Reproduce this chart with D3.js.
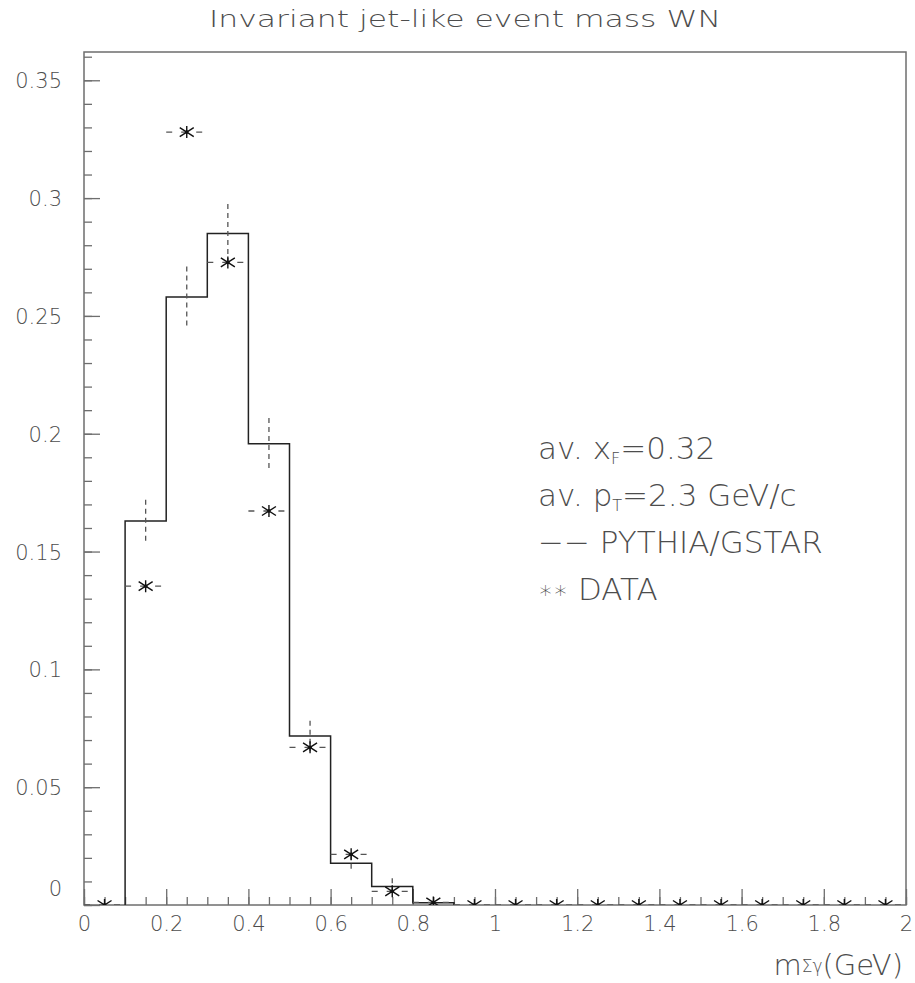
<!DOCTYPE html>
<html>
<head>
<meta charset="utf-8">
<script src="https://cdn.jsdelivr.net/npm/d3@7/dist/d3.min.js"></script>
<style>
  html, body { margin: 0; padding: 0; background: #fff; }
  svg { display: block; }
  text { font-family: "DejaVu Sans", sans-serif; font-weight: 200; fill: #4d4d4d; }
</style>
</head>
<body>
<svg id="chart" width="915" height="983"></svg>
<script>
// ---------- data ----------
const chartTitle = "Invariant jet-like event mass WN";
const binEdges = [0.1, 0.2, 0.3, 0.4, 0.5, 0.6, 0.7, 0.8, 0.9];
const mcValues = [0.163, 0.258, 0.285, 0.1957, 0.0717, 0.0177, 0.0079, 0.001];
const mcErrors = [0.009, 0.013, 0.0125, 0.011, 0.0065, 0.0036, 0.0035, 0.0005];
const dataCenters = [0.05, 0.15, 0.25, 0.35, 0.45, 0.55, 0.65, 0.75, 0.85, 0.95,
                     1.05, 1.15, 1.25, 1.35, 1.45, 1.55, 1.65, 1.75, 1.85, 1.95];
const dataValues = [0, 0.1353, 0.328, 0.2727, 0.1672, 0.0669, 0.0215, 0.0058, 0.0011, 0,
                    0, 0, 0, 0, 0, 0, 0, 0, 0, 0];
const dataHalfWidth = 0.05;
const xTickLabels = ["0", "0.2", "0.4", "0.6", "0.8", "1", "1.2", "1.4", "1.6", "1.8", "2"];
const yTickLabels = ["0", "0.05", "0.1", "0.15", "0.2", "0.25", "0.3", "0.35"];
const legendLines = [
  [{t: "av. x"}, {t: "F", sub: true}, {t: "=0.32"}],
  [{t: "av. p"}, {t: "T", sub: true}, {t: "=2.3 GeV/c"}],
  [{t: "−− PYTHIA/GSTAR"}],
  [{t: "∗∗", small: true}, {t: " DATA"}]
];

// ---------- layout ----------
const svg = d3.select("#chart");
const L = 84, R = 906, T = 52, B = 905;
const x = d3.scaleLinear().domain([0, 2]).range([L, R]);
const y = d3.scaleLinear().domain([0, 0.362]).range([B, T]);
const frameColor = "#6e6e6e";
const fontFam = "'DejaVu Sans', sans-serif";

svg.append("defs").append("clipPath").attr("id", "plotclip")
  .append("rect").attr("x", L).attr("y", T).attr("width", R - L).attr("height", B - T);

// title
svg.append("text").attr("x", 209).attr("y", 27)
  .attr("font-size", 23).attr("textLength", 512).attr("lengthAdjust", "spacingAndGlyphs")
  .text(chartTitle);

// frame
svg.append("rect").attr("x", L).attr("y", T).attr("width", R - L).attr("height", B - T)
  .attr("fill", "none").attr("stroke", frameColor).attr("stroke-width", 1.5);

// y ticks (inward)
const yMajor = yTickLabels.map(Number);
const yMinor = d3.range(0, 0.3601, 0.01).map(v => +v.toFixed(3));
function styleAxis(g) {
  g.select(".domain").remove();
  g.selectAll(".tick line").attr("stroke", frameColor).attr("stroke-width", 1.3);
}
svg.append("g").attr("transform", `translate(${L},0)`)
  .call(d3.axisRight(y).tickValues(yMinor).tickSize(8).tickFormat(""))
  .call(styleAxis);
svg.append("g").attr("transform", `translate(${L},0)`)
  .call(d3.axisRight(y).tickValues(yMajor).tickSize(16).tickFormat(""))
  .call(styleAxis);
// y labels
const yLab = svg.append("g").attr("transform", `translate(${L},0)`)
  .call(d3.axisLeft(y).tickValues(yMajor).tickSize(0).tickPadding(22)
        .tickFormat((d, i) => yTickLabels[i]));
yLab.select(".domain").remove();
yLab.selectAll("text").attr("font-size", 21).attr("fill", "#4d4d4d")
  .attr("font-family", fontFam).attr("font-weight", 200)
  .attr("dy", (d) => d === 0 ? "-0.45em" : "0.36em");

// x ticks (inward)
const xMajor = xTickLabels.map(Number);
const xMinor = d3.range(0, 2.001, 0.05).map(v => +v.toFixed(3));
svg.append("g").attr("transform", `translate(0,${B})`)
  .call(d3.axisTop(x).tickValues(xMinor).tickSize(8).tickFormat(""))
  .call(styleAxis);
svg.append("g").attr("transform", `translate(0,${B})`)
  .call(d3.axisTop(x).tickValues(xMajor).tickSize(16).tickFormat(""))
  .call(styleAxis);
const xLab = svg.append("g").attr("transform", `translate(0,${B})`)
  .call(d3.axisBottom(x).tickValues(xMajor).tickSize(0).tickPadding(11)
        .tickFormat((d, i) => xTickLabels[i]));
xLab.select(".domain").remove();
xLab.selectAll("text").attr("font-size", 21).attr("fill", "#4d4d4d")
  .attr("font-family", fontFam).attr("font-weight", 200);

// x axis title
const xt = svg.append("text").attr("x", 903).attr("y", 975).attr("text-anchor", "end")
  .attr("font-size", 29);
xt.append("tspan").text("m");
xt.append("tspan").attr("font-size", 17).attr("dy", -3).text("Σγ");
xt.append("tspan").attr("dy", 3).text("(GeV)");

// plot content
const plot = svg.append("g").attr("clip-path", "url(#plotclip)");

// MC histogram
const histPts = [[binEdges[0], 0]];
mcValues.forEach((v, i) => { histPts.push([binEdges[i], v]); histPts.push([binEdges[i + 1], v]); });
histPts.push([binEdges[binEdges.length - 1], 0]);
plot.append("path")
  .attr("d", d3.line().x(d => x(d[0])).y(d => y(d[1]))(histPts))
  .attr("fill", "none").attr("stroke", "#222").attr("stroke-width", 1.5);

// MC error bars (dashed vertical)
plot.selectAll("line.mcerr").data(mcValues).join("line")
  .attr("class", "mcerr")
  .attr("x1", (d, i) => x((binEdges[i] + binEdges[i + 1]) / 2))
  .attr("x2", (d, i) => x((binEdges[i] + binEdges[i + 1]) / 2))
  .attr("y1", (d, i) => y(d + mcErrors[i]))
  .attr("y2", (d, i) => y(d - mcErrors[i]))
  .attr("stroke", "#555").attr("stroke-width", 1.3).attr("stroke-dasharray", "5,4");

// data horizontal error bars
plot.selectAll("line.dataerr").data(dataValues).join("line")
  .attr("class", "dataerr")
  .attr("x1", (d, i) => x(dataCenters[i] - dataHalfWidth))
  .attr("x2", (d, i) => x(dataCenters[i] + dataHalfWidth))
  .attr("y1", d => y(d)).attr("y2", d => y(d))
  .attr("stroke", "#555").attr("stroke-width", 1.3).attr("stroke-dasharray", "6,9");

// data asterisks
const starPath = "M0,-6V6M-7,-4.5L7,4.5M-7,4.5L7,-4.5";
const stars = plot.selectAll("g.star").data(dataValues).join("g")
  .attr("class", "star")
  .attr("transform", (d, i) => `translate(${x(dataCenters[i])},${y(d)})`);
stars.append("path").attr("d", starPath).attr("stroke", "#111").attr("stroke-width", 1.4).attr("fill", "none");
stars.append("circle").attr("r", 1.8).attr("fill", "#111");

// legend
const leg = svg.append("g");
legendLines.forEach((parts, i) => {
  const t = leg.append("text").attr("x", 538).attr("y", 459 + i * 47).attr("font-size", 31);
  let prevSub = false;
  parts.forEach(p => {
    const s = t.append("tspan").text(p.t);
    if (p.sub) { s.attr("font-size", 16).attr("dy", 5); prevSub = true; }
    else {
      if (prevSub) { s.attr("dy", -5); prevSub = false; }
      if (p.small) s.attr("font-size", 24).attr("dy", -2);
      else if (parts[0].small) s.attr("dy", 2);
    }
  });
});
</script>
</body>
</html>
